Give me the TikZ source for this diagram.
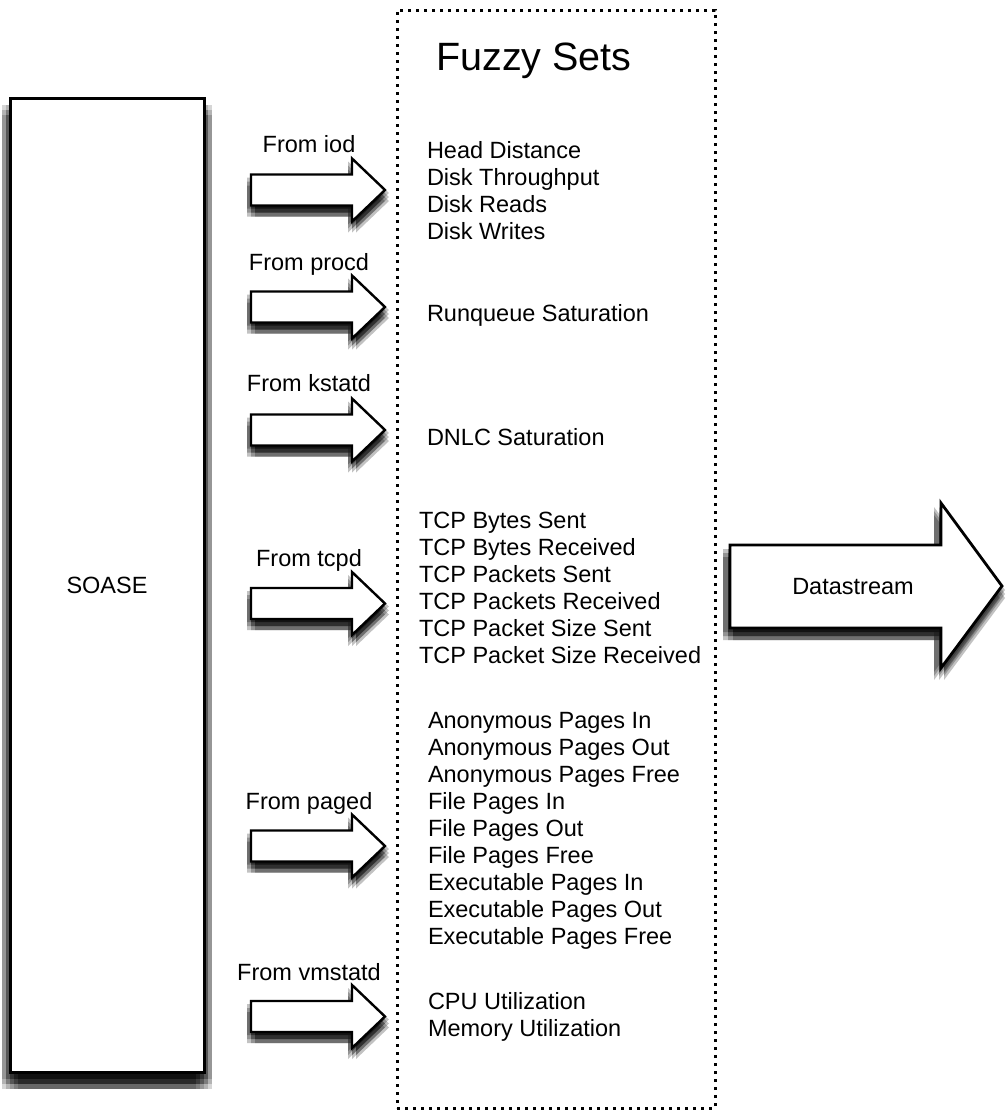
\documentclass[tikz,border=0pt]{standalone}
\usepackage{fontspec}
\setmainfont{Liberation Sans}
\begin{document}
\begin{tikzpicture}[x=1pt,y=-1pt,
  every node/.style={inner sep=0pt, outer sep=0pt},
  body/.style={font=\fontsize{23.5}{27}\selectfont, align=left, anchor=west},
  srclabel/.style={font=\fontsize{23.5}{27}\selectfont, anchor=base},
  outline/.style={draw=black, fill=white, line width=2.4pt, line join=miter},
  shade/.style={fill=black, fill opacity=0.24},
  bigshade/.style={fill=black, fill opacity=0.16},
  dotframe/.style={draw=black, line width=3pt, dash pattern=on 3pt off 5pt},
  fatarrow/.pic={
    % soft drop shadow built from offset translucent copies
    \foreach \dx in {-4,0,4}{\foreach \dy in {3,7,11}{
      \fill[shade, shift={(\dx,\dy)}]
        (0,-15.5) -- (101,-15.5) -- (101,-31.5) -- (134,0) -- (101,31.5) -- (101,15.5) -- (0,15.5) -- cycle;
    }}
    \draw[outline]
      (0,-15.5) -- (101,-15.5) -- (101,-31.5) -- (134,0) -- (101,31.5) -- (101,15.5) -- (0,15.5) -- cycle;
  }
]
\useasboundingbox (0,0) rectangle (1005,1111);
\fill[white] (0,0) rectangle (1005,1111);

% ---- SOASE block with soft shadow
\foreach \dx in {-8,-4,0,4,8}{\foreach \dy in {5,10,15}{
  \fill[bigshade, shift={(\dx,\dy)}] (10,100) rectangle (204,1074);
}}
\node[draw=black, fill=white, line width=3pt, minimum width=194pt, minimum height=974pt,
      font=\fontsize{23.5}{27}\selectfont] (soase) at (107,585) {SOASE};

% ---- fuzzy set frame
\node[dotframe, minimum width=318pt, minimum height=1098pt] (fuzzybox) at (556,559) {};
\node[font=\fontsize{39.5}{46}\selectfont, anchor=base] (title) at (534,70) {Fuzzy Sets};

% ---- collectors feeding the fuzzy sets
\pic at (251,190) {fatarrow};
\node[srclabel] (iod) at (309,152) {From iod};
\node[body] (iodsets) at (427,191) {Head Distance\\Disk Throughput\\Disk Reads\\Disk Writes};

\pic at (251,307) {fatarrow};
\node[srclabel] (procd) at (309,270) {From procd};
\node[body] (procdsets) at (427,315) {Runqueue Saturation};

\pic at (251,430) {fatarrow};
\node[srclabel] (kstatd) at (309,391) {From kstatd};
\node[body] (kstatdsets) at (427,437) {DNLC Saturation};

\pic at (251,603.5) {fatarrow};
\node[srclabel] (tcpd) at (309,566) {From tcpd};
\node[body] (tcpdsets) at (419,588) {TCP Bytes Sent\\TCP Bytes Received\\TCP Packets Sent\\TCP Packets Received\\TCP Packet Size Sent\\TCP Packet Size Received};

\pic at (251,846) {fatarrow};
\node[srclabel] (paged) at (309,809) {From paged};
\node[body] (pagedsets) at (428,831) {Anonymous Pages In\\Anonymous Pages Out\\Anonymous Pages Free\\File Pages In\\File Pages Out\\File Pages Free\\Executable Pages In\\Executable Pages Out\\Executable Pages Free};

\pic at (251,1016.5) {fatarrow};
\node[srclabel] (vmstatd) at (309,980) {From vmstatd};
\node[body] (vmstatdsets) at (428,1017) {CPU Utilization\\Memory Utilization};

% ---- outgoing datastream arrow
\foreach \dx in {-7,-2,3}{\foreach \dy in {4,8,12}{
  \fill[shade, shift={(\dx,\dy)}]
    (730,545) -- (941,545) -- (941,503) -- (1002,586) -- (941,668) -- (941,628) -- (730,628) -- cycle;
}}
\draw[outline, line width=2.8pt]
  (730,545) -- (941,545) -- (941,503) -- (1002,586) -- (941,668) -- (941,628) -- (730,628) -- cycle;
\node[font=\fontsize{23.5}{27}\selectfont] (stream) at (853,587) {Datastream};
\end{tikzpicture}
\end{document}
